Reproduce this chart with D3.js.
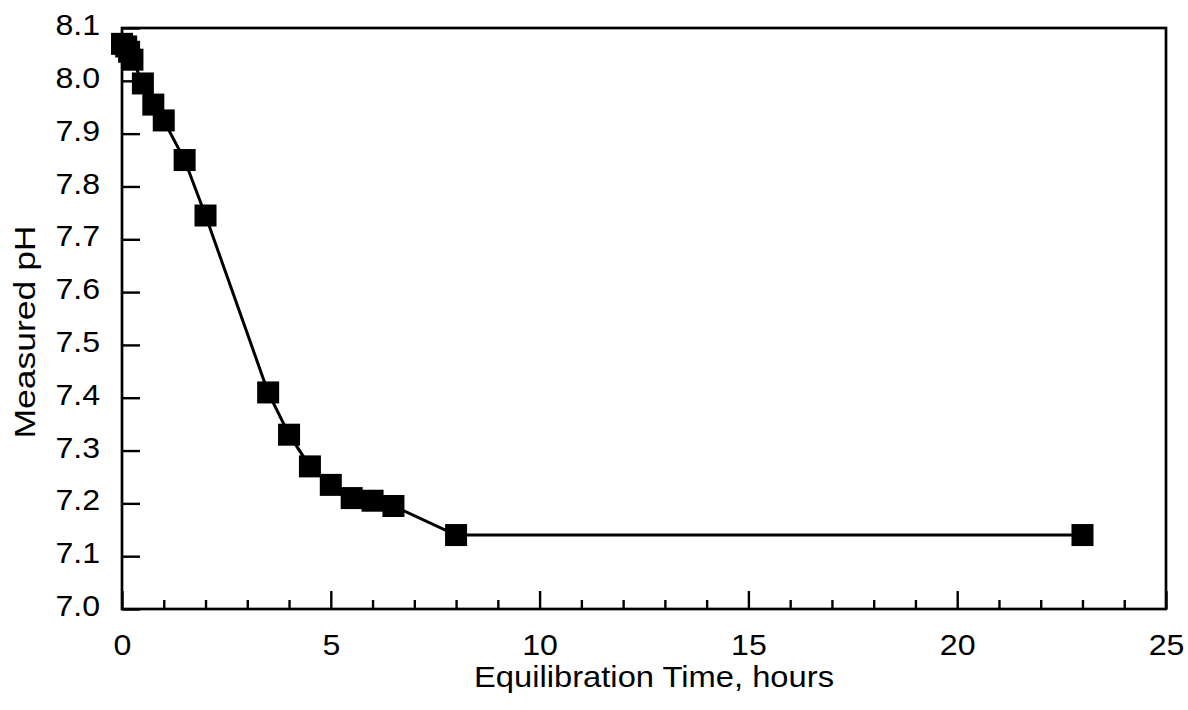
<!DOCTYPE html>
<html>
<head>
<meta charset="utf-8">
<script src="https://cdn.jsdelivr.net/npm/d3@7"></script>
<style>
  html, body { margin: 0; padding: 0; background: #fff; }
  svg { display: block; }
  text { font-family: "Liberation Sans", Arial, Helvetica, sans-serif; fill: #000; }
</style>
</head>
<body>
<svg id="chart" width="1188" height="710"></svg>
<script>
// Equilibration time (hours) and measured pH
const hours = [0, 0.1, 0.17, 0.25, 0.5, 0.75, 1, 1.5, 2, 3.5, 4, 4.5, 5, 5.5, 6, 6.5, 8, 23];
const phValues = [8.07, 8.065, 8.055, 8.04, 7.995, 7.955, 7.925, 7.85, 7.745, 7.41, 7.33, 7.27, 7.235, 7.21, 7.205, 7.195, 7.14, 7.14];
const xTickValues = [0, 5, 10, 15, 20, 25];
const xMinorTickValues = d3.range(0, 26, 1);
const yTickValues = [7.0, 7.1, 7.2, 7.3, 7.4, 7.5, 7.6, 7.7, 7.8, 7.9, 8.0, 8.1];
const xTitle = "Equilibration Time, hours";
const yTitle = "Measured pH";

const svg = d3.select("#chart");
const margin = { left: 122, top: 28, right: 22, bottom: 101 };
const W = 1188, H = 710;
const x = d3.scaleLinear().domain([0, 25]).range([margin.left, W - margin.right]);
const y = d3.scaleLinear().domain([7.0, 8.1]).range([H - margin.bottom, margin.top]);

const fs = 30;
const stretch = 1.07;

// Widen a text element horizontally by a factor, keeping its anchor
function widen(sel, factor) {
  sel.each(function () {
    const len = this.getComputedTextLength();
    d3.select(this).attr("textLength", len * factor).attr("lengthAdjust", "spacingAndGlyphs");
  });
}

// Frame around plot area
svg.append("rect")
  .attr("x", x(0)).attr("y", y(8.1))
  .attr("width", x(25) - x(0)).attr("height", y(7.0) - y(8.1))
  .attr("fill", "none").attr("stroke", "#000").attr("stroke-width", 2.7);

// X axis: minor ticks every hour, major ticks every 5 hours, pointing inward
const xMinor = d3.axisTop(x).tickValues(xMinorTickValues.filter(v => v % 5 !== 0)).tickSize(9).tickFormat("");
svg.append("g").attr("transform", `translate(0,${y(7.0)})`).call(xMinor)
  .call(g => g.select(".domain").remove())
  .call(g => g.selectAll("line").attr("stroke", "#000").attr("stroke-width", 2.4));

const xMajor = d3.axisTop(x).tickValues(xTickValues).tickSize(18).tickFormat("");
svg.append("g").attr("transform", `translate(0,${y(7.0)})`).call(xMajor)
  .call(g => g.select(".domain").remove())
  .call(g => g.selectAll("line").attr("stroke", "#000").attr("stroke-width", 2.4));

// X tick labels
const xLabels = d3.axisBottom(x).tickValues(xTickValues).tickSize(0).tickPadding(0).tickFormat(d3.format("d"));
svg.append("g").attr("transform", `translate(0,${y(7.0)})`).call(xLabels)
  .call(g => g.select(".domain").remove())
  .call(g => g.selectAll("text")
    .attr("dy", null).attr("y", 46)
    .style("font-size", fs + "px").attr("font-family", null)
    .call(widen, stretch));

// Y axis: ticks pointing inward with labels on the left
const yAxis = d3.axisRight(y).tickValues(yTickValues).tickSize(18).tickFormat(d3.format(".1f"));
svg.append("g").attr("transform", `translate(${x(0)},0)`).call(yAxis)
  .call(g => g.select(".domain").remove())
  .call(g => g.selectAll("line").attr("stroke", "#000").attr("stroke-width", 2.4))
  .call(g => g.selectAll("text")
    .attr("x", -22).attr("dy", "0.22em")
    .attr("text-anchor", "end")
    .style("font-size", fs + "px").attr("font-family", null)
    .call(widen, stretch));

// Data line
const line = d3.line().x((d, i) => x(hours[i])).y(d => y(d));
svg.append("path")
  .datum(phValues)
  .attr("d", line)
  .attr("fill", "none").attr("stroke", "#000").attr("stroke-width", 3);

// Square markers
const side = 22;
svg.append("g").selectAll("rect")
  .data(phValues)
  .join("rect")
  .attr("x", (d, i) => x(hours[i]) - side / 2)
  .attr("y", d => y(d) - side / 2)
  .attr("width", side).attr("height", side)
  .attr("fill", "#000");

// Axis titles
svg.append("text")
  .attr("x", 474).attr("y", 687)
  .attr("text-anchor", "start")
  .style("font-size", "29px")
  .attr("textLength", 360).attr("lengthAdjust", "spacingAndGlyphs")
  .text(xTitle);

svg.append("text")
  .attr("transform", `translate(35,332) rotate(-90)`)
  .attr("text-anchor", "middle")
  .style("font-size", "30px")
  .attr("textLength", 213).attr("lengthAdjust", "spacingAndGlyphs")
  .text(yTitle);
</script>
</body>
</html>
